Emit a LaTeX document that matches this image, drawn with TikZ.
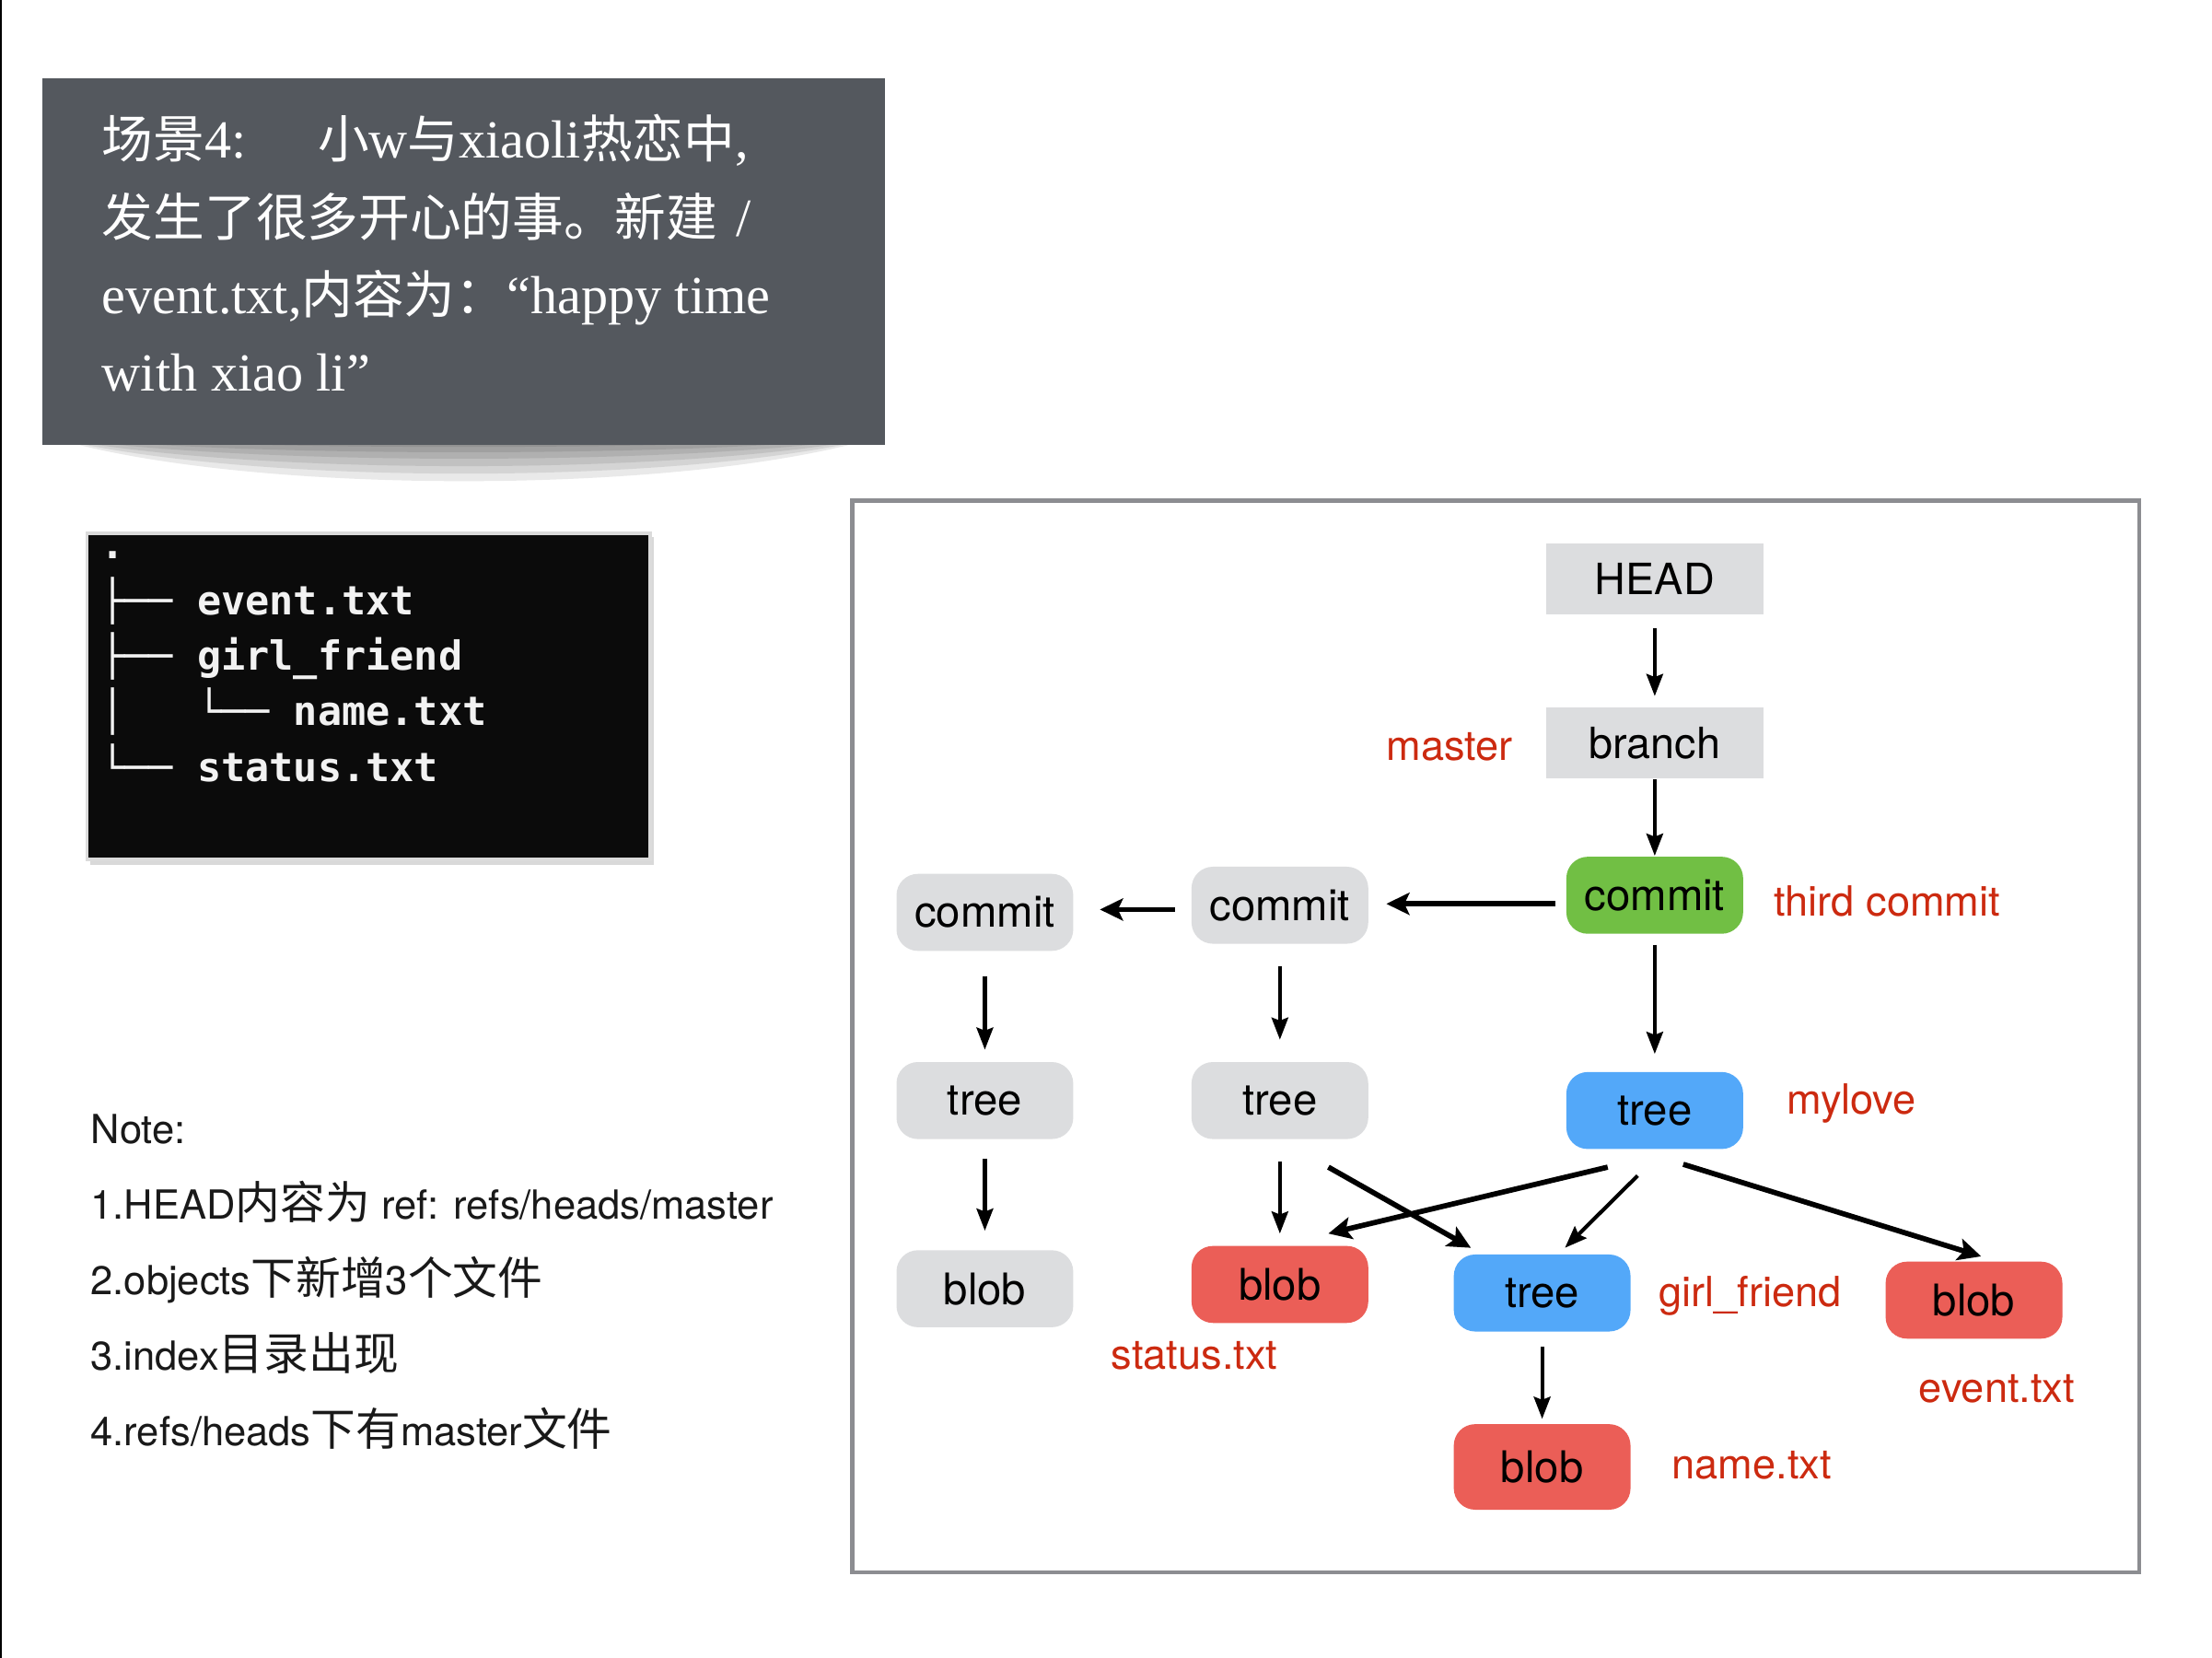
\documentclass[tikz,border=0pt]{standalone}
\usepackage{fontspec}
\setmainfont{Liberation Serif}
\setsansfont{TeX Gyre Heros}
\setmonofont{DejaVu Sans Mono}
\newfontfamily\cjkfont[Scale=0.957]{Noto Sans CJK SC}
\newfontfamily\cjknote[Scale=1.12]{Noto Sans CJK SC}
\newcommand\zhc[1]{{\cjkfont #1}}
\newcommand\zhn[1]{{\cjknote #1}}
\usetikzlibrary{arrows.meta,calc}
\definecolor{titlebg}{HTML}{54585E}
\definecolor{nodegray}{HTML}{DCDDDF}
\definecolor{nodegreen}{HTML}{71BF44}
\definecolor{nodeblue}{HTML}{53A8F9}
\definecolor{nodered}{HTML}{EB5E57}
\definecolor{labelred}{HTML}{CC2A10}
\definecolor{framegray}{HTML}{8C8D91}
\definecolor{termbg}{HTML}{0B0B0B}
\definecolor{termfg}{HTML}{F2F2F2}
\begin{document}
\begin{tikzpicture}[x=0.1mm,y=-0.1mm,
  ttl/.style={anchor=base west,inner sep=0pt,text=white,font=\rmfamily\fontsize{10.7}{12}\selectfont},
  term/.style={anchor=base west,inner sep=0pt,text=termfg,font=\ttfamily\bfseries\fontsize{8}{9}\selectfont},
  note/.style={anchor=base west,inner sep=0pt,text=black!90,font=\sffamily\fontsize{8}{10}\selectfont},
  gbox/.style={rounded corners=1.5mm,minimum width=12.4mm,minimum height=5.4mm,inner sep=0pt,text=black,font=\sffamily\fontsize{8.7}{10}\selectfont},
  refbox/.style={fill=nodegray,minimum width=15.2mm,minimum height=5mm,inner sep=0pt,text=black,font=\sffamily\fontsize{8.6}{10}\selectfont},
  lbl/.style={inner sep=0pt,text=labelred,font=\sffamily\fontsize{8.3}{10}\selectfont},
  arr/.style={line width=0.75pt,-{Stealth[length=4.4pt,width=3.3pt,inset=0.6pt]}},
  arrT/.style={line width=1.05pt,-{Stealth[length=4.6pt,width=4.4pt,inset=1pt]}}
]
\useasboundingbox (0,0) rectangle (1552,1163);
\fill[white] (0,0) rectangle (1552,1163);
\draw[black,line width=0.45pt] (0.8,0) -- (0.8,1163);

% title box with curved shadow
\foreach \d in {36,29,22,15,9,4}
  \fill[black,opacity=0.085] (33,306) .. controls (170,312+\d) and (481,312+\d) .. (618,306) -- cycle;
\fill[titlebg] (30,55) rectangle (621,312);
\node[ttl] (ttl1) at (71,111) {\zhc{场景}4:\hspace{5mm}\zhc{小}w\zhc{与}xiaoli\zhc{热恋中},};
\node[ttl] (ttl2) at (71,165.5) {\zhc{发生了很多开心的事。新建}\hspace{1.3mm}/};
\node[ttl] (ttl3) at (71,220) {event.txt,\zhc{内容为：}“happy time};
\node[ttl] (ttl4) at (71,274.5) {with xiao li”};

% terminal box
\fill[black,opacity=0.15] (63,377) rectangle (459,607);
\draw[fill=termbg,draw=black!14,line width=0.7pt] (61,374) rectangle (456,603);
\node[term] (tr0) at (70,392) {.};
\node[term] (tr1) at (70,431) {├── event.txt};
\node[term] (tr2) at (70,470) {├── girl\_friend};
\node[term] (tr3) at (70,509) {│\ \ \ └── name.txt};
\node[term] (tr4) at (70,548) {└── status.txt};

% notes
\node[note] (n0) at (63,802) {Note:};
\node[note] (n1) at (63,855) {1.HEAD\zhn{内容为} ref: refs/heads/master};
\node[note] (n2) at (63,908) {2.objects\zhn{下新增}3\zhn{个文件}};
\node[note] (n3) at (63,961) {3.index\zhn{目录出现}};
\node[note] (n4) at (63,1014) {4.refs/heads\zhn{下有}master\zhn{文件}};

% graph frame
\draw[framegray,line width=0.85pt] (598,351) rectangle (1501,1103);

% nodes
\node[refbox] (head) at (1161,406) {HEAD};
\node[refbox] (branch) at (1161,521) {branch};
\node[gbox,fill=nodegreen] (c3) at (1161,628) {commit};
\node[gbox,fill=nodegray] (c2) at (898,635) {commit};
\node[gbox,fill=nodegray] (c1) at (691,640) {commit};
\node[gbox,fill=nodegray] (t1g) at (691,772) {tree};
\node[gbox,fill=nodegray] (t2g) at (898,772) {tree};
\node[gbox,fill=nodeblue] (tb) at (1161,779) {tree};
\node[gbox,fill=nodegray] (b1g) at (691,904) {blob};
\node[gbox,fill=nodered] (bs) at (898,901) {blob};
\node[gbox,fill=nodeblue] (tgf) at (1082,907) {tree};
\node[gbox,fill=nodered] (be) at (1385,912) {blob};
\node[gbox,fill=nodered,minimum height=6mm] (bn) at (1082,1029) {blob};

% labels
\node[lbl] (lmaster) at (1017,524) {master};
\node[lbl] (lthird) at (1324,632) {third commit};
\node[lbl] (lmylove) at (1299,774) {mylove};
\node[lbl] (lstatus) at (838,951) {status.txt};
\node[lbl] (lgirl) at (1228,909) {girl\_friend};
\node[lbl] (levent) at (1401,974) {event.txt};
\node[lbl] (lname) at (1229,1028) {name.txt};

% connectors
\draw[arr] ([shift={(0,9)}]head.south) -- ([shift={(0,-7)}]branch.north);
\draw[arr] (branch.south) -- (c3.north);
\draw[arrT] ([shift={(-7,6)}]c3.west) -- ([shift={(12,-1)}]c2.east);
\draw[arrT] ([shift={(-11,3)}]c2.west) -- ([shift={(18,-2)}]c1.east);
\draw[arr] ([shift={(0,17)}]c1.south) -- ([shift={(0,-8)}]t1g.north);
\draw[arr] ([shift={(0,15)}]c2.south) -- ([shift={(0,-15)}]t2g.north);
\draw[arr] ([shift={(0,7)}]c3.south) -- ([shift={(0,-12)}]tb.north);
\draw[arr] ([shift={(0,13)}]t1g.south) -- ([shift={(0,-13)}]b1g.north);
\draw[arr] ([shift={(0,15)}]t2g.south) -- ([shift={(0,-8)}]bs.north);
\draw[arrT] ([shift={(34,19)}]t2g.south) -- ([shift={(-50,-4)}]tgf.north);
\draw[arrT] ([shift={(-33,12)}]tb.south) -- ([shift={(34,-8)}]bs.north);
\draw[arr] ([shift={(-12,18)}]tb.south) -- ([shift={(16,-4)}]tgf.north);
\draw[arrT] ([shift={(20,10)}]tb.south) -- ([shift={(5,-3)}]be.north);
\draw[arr] ([shift={(0,10)}]tgf.south) -- ([shift={(0,-3)}]bn.north);
\end{tikzpicture}
\end{document}
